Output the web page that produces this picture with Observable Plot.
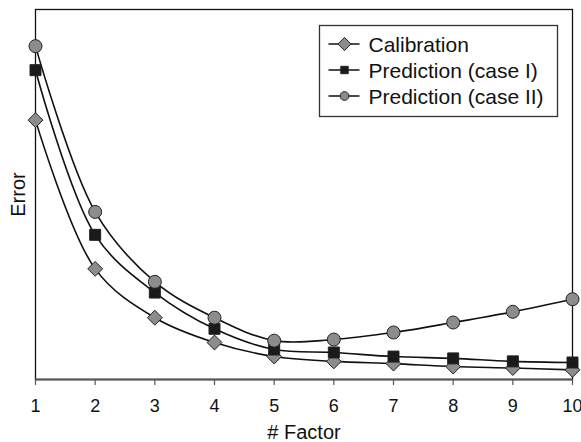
<!DOCTYPE html>
<html>
<head>
<meta charset="utf-8">
<script src="https://cdn.jsdelivr.net/npm/d3@7"></script>
<script src="https://cdn.jsdelivr.net/npm/@observablehq/plot@0.6"></script>
<style>
  html, body { margin: 0; padding: 0; background: #fff; }
  #wrap { position: relative; width: 581px; height: 442px; font-family: "Liberation Sans", Arial, sans-serif; }
  #legend { position: absolute; left: 0; top: 0; }
</style>
</head>
<body>
<div id="wrap"></div>
<script>
// ---- data ----
const factors = [1, 2, 3, 4, 5, 6, 7, 8, 9, 10];
const calibration   = [7.01, 2.99, 1.67, 1.00, 0.62, 0.49, 0.43, 0.35, 0.31, 0.26];
const predictionI   = [8.36, 3.91, 2.35, 1.37, 0.81, 0.73, 0.62, 0.57, 0.49, 0.46];
const predictionII  = [9.01, 4.53, 2.64, 1.67, 1.05, 1.08, 1.27, 1.54, 1.83, 2.17];
const seriesNames = ["Calibration", "Prediction (case I)", "Prediction (case II)"];
const xTicks = [1, 2, 3, 4, 5, 6, 7, 8, 9, 10];

const seriesValues = [calibration, predictionI, predictionII];
const symbols = ["diamond2", "square", "circle"];
const fills = ["#8c8c8c", "#1a1a1a", "#8c8c8c"];
const radii = [6.7, 6.2, 6.5];

const rows = [];
seriesValues.forEach((vals, s) => vals.forEach((v, i) => rows.push({series: seriesNames[s], s, x: factors[i], y: v})));

const font = '"Liberation Sans", Arial, sans-serif';

const marks = [
  Plot.frame({stroke: "#111", strokeWidth: 1.3}),
  Plot.axisX({ticks: xTicks, tickSize: 6, tickPadding: 14, stroke: "#555", strokeWidth: 1.2,
    fontSize: 18, fill: "#111", label: null}),
  Plot.axisX({ticks: [], tickSize: 0, fontSize: 20, fill: "#111",
    label: "# Factor", labelAnchor: "center", labelArrow: "none", labelOffset: 59}),
  Plot.axisY({ticks: [], tickSize: 0, label: "Error", labelAnchor: "center", labelArrow: "none", labelOffset: 25, fontSize: 20, fill: "#111"}),
  Plot.ruleY([0], {stroke: "#555", strokeWidth: 2}),
];
seriesValues.forEach((vals, s) => {
  const data = rows.filter(d => d.s === s);
  marks.push(Plot.line(data, {x: "x", y: "y", curve: "catmull-rom", stroke: "#111", strokeWidth: 1.6}));
});
seriesValues.forEach((vals, s) => {
  const data = rows.filter(d => d.s === s);
  marks.push(Plot.dot(data, {x: "x", y: "y", symbol: () => symbols[s], r: radii[s], fill: fills[s], stroke: "#222", strokeWidth: 1}));
});

const chart = Plot.plot({
  width: 581,
  height: 442,
  marginLeft: 35,
  marginRight: 9,
  marginTop: 9,
  marginBottom: 63,
  style: {fontFamily: font, fontSize: "18px", background: "#fff", overflow: "visible"},
  x: {domain: [1, 10]},
  y: {domain: [0, 10]},
  marks
});
const wrap = document.getElementById("wrap");
wrap.appendChild(chart);

// ---- legend overlay ----
const lg = d3.select(wrap).append("svg").attr("id", "legend").attr("width", 581).attr("height", 442);
const box = lg.append("g").attr("transform", "translate(319.5,25.5)");
box.append("rect").attr("width", 238).attr("height", 91).attr("fill", "#fff").attr("stroke", "#333").attr("stroke-width", 1.3);
const legSym = [d3.symbolDiamond2, d3.symbolSquare, d3.symbolCircle];
const legSize = [110, 55, 60];
seriesNames.forEach((name, i) => {
  const g = box.append("g").attr("transform", `translate(0,${18.5 + i * 26})`);
  g.append("line").attr("x1", 9).attr("x2", 40).attr("stroke", "#111").attr("stroke-width", 1.5);
  g.append("path").attr("transform", "translate(25,0)").attr("d", d3.symbol(legSym[i], legSize[i])())
    .attr("fill", fills[i]).attr("stroke", "#222").attr("stroke-width", 1);
  g.append("text").attr("x", 49).attr("dy", "0.36em").attr("font-family", font).attr("font-size", 21).attr("fill", "#111").text(name);
});
</script>
</body>
</html>
